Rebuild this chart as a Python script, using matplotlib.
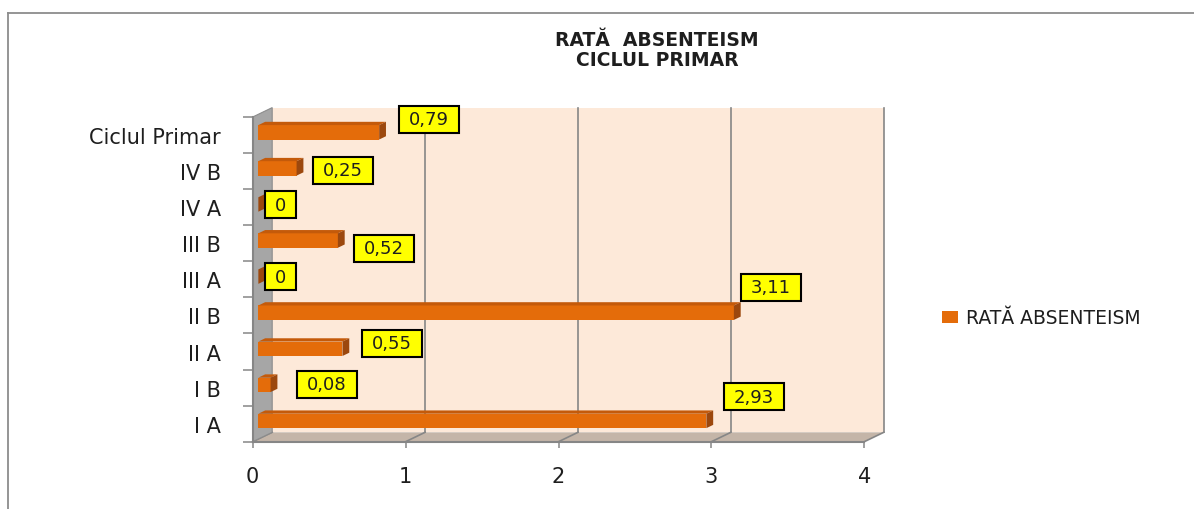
import matplotlib
matplotlib.use("Agg")
import matplotlib.pyplot as plt
from matplotlib.patches import Polygon, Rectangle
from matplotlib.transforms import ScaledTranslation, IdentityTransform
from matplotlib.lines import Line2D

# --- data ---
categories = ["I A", "I B", "II A", "II B", "III A", "III B", "IV A", "IV B", "Ciclul Primar"]
rates = [2.93, 0.08, 0.55, 3.11, 0, 0.52, 0, 0.25, 0.79]
x_ticks = [0, 1, 2, 3, 4]
series_name = "RATĂ ABSENTEISM"
title_lines = ["RATĂ  ABSENTEISM", "CICLUL PRIMAR"]

# where each yellow label box sits, px from the bar end (right, up)
label_shift = [(10.7, 27), (19.6, 3.4), (12.7, 8.5), (0.3, 28), (-0.2, 2.5),
               (9.6, -5.2), (-0.2, 2.5), (9.3, 0.7), (13.3, 16)]

W, H = 1194, 510
DX, DY = 19.5, 9.4          # depth of the fake 3d box, px
F0, F1 = 0.29, 0.64         # bar front / back depth
BAR_H = 0.40

ORANGE = "#e46c0a"
TOP = "#c45a0a"
SIDE = "#9c480e"
WALL = "#fde9d9"
FLOOR = "#c4b5a8"
SIDEWALL = "#a6a6a6"
GRID = "#868686"
TXT = "#1e1e1e"

plt.rcParams["font.family"] = ["DejaVu Sans"]

fig = plt.figure(figsize=(W / 100, H / 100), dpi=100)
ax = fig.add_axes([252.7 / W, (H - 442.7) / H, (864.3 - 252.7) / W, (442.7 - 118) / H])
ax.set_xlim(0, 4)
ax.set_ylim(-0.5, len(categories) - 0.5)
ax.set_autoscale_on(False)
ax.patch.set_visible(False)

top_y = len(categories) - 0.5


def to_px(x, y, depth=0.0):
    px, py = ax.transData.transform((x, y))
    return px + depth * DX, py + depth * DY


def poly(pts, fc, ec="none", lw=0, z=1):
    p = Polygon(pts, closed=True, facecolor=fc, edgecolor=ec, linewidth=lw,
                transform=IdentityTransform(), clip_on=False, zorder=z)
    ax.add_patch(p)


def seg(a, b, z=2, lw=1.2, color=GRID):
    ax.add_line(Line2D([a[0], b[0]], [a[1], b[1]], color=color, linewidth=lw,
                       transform=IdentityTransform(), clip_on=False, zorder=z))


# back wall, floor, left wall
poly([to_px(0, -0.5, 1), to_px(4, -0.5, 1), to_px(4, top_y, 1), to_px(0, top_y, 1)], WALL, z=0)
poly([to_px(0, -0.5, 0), to_px(4, -0.5, 0), to_px(4, -0.5, 1), to_px(0, -0.5, 1)], FLOOR, z=1)
poly([to_px(0, -0.5, 0), to_px(0, top_y, 0), to_px(0, top_y, 1), to_px(0, -0.5, 1)],
     SIDEWALL, ec="#8c8c8c", lw=0.8, z=2)

for xv in x_ticks:
    seg(to_px(xv, -0.5, 0), to_px(xv, -0.5, 1), z=1.5)
    if xv > 0:
        seg(to_px(xv, -0.5, 1), to_px(xv, top_y, 1), z=0.5)

# bars: front face through barh, top and side faces shifted in depth
shift = ScaledTranslation(F0 * DX / 100, F0 * DY / 100, fig.dpi_scale_trans)
ypos = list(range(len(categories)))
ax.barh(ypos, rates, height=BAR_H, color=ORANGE, label=series_name,
        transform=ax.transData + shift, clip_on=False, zorder=5)

for i, v in enumerate(rates):
    lo, hi = i - BAR_H / 2, i + BAR_H / 2
    poly([to_px(0, hi, F0), to_px(v, hi, F0), to_px(v, hi, F1), to_px(0, hi, F1)], TOP, z=5)
    poly([to_px(v, lo, F0), to_px(v, hi, F0), to_px(v, hi, F1), to_px(v, lo, F1)], SIDE, z=5)

# axes look
for s in ["top", "right"]:
    ax.spines[s].set_visible(False)
for s in ["left", "bottom"]:
    ax.spines[s].set_color(GRID)
    ax.spines[s].set_linewidth(1.5)
    ax.spines[s].set_zorder(3)

ax.set_xticks(x_ticks)
ax.set_yticks(ypos)
ax.set_yticklabels(categories)
ax.set_yticks([i - 0.5 for i in range(len(categories) + 1)], minor=True)
ax.tick_params(axis="x", length=4.3, width=1.1, color=GRID, pad=13, labelsize=15, labelcolor=TXT)
ax.tick_params(axis="y", which="major", length=0, pad=23, labelsize=15, labelcolor=TXT)
ax.tick_params(axis="y", which="minor", length=7.2, width=1.1, color=GRID)

# yellow value boxes
renderer = fig.canvas.get_renderer()
for i, v in enumerate(rates):
    txt = "0" if v == 0 else f"{v:.2f}".replace(".", ",")
    dx, dy = label_shift[i]
    bx = to_px(v, i, F1)[0] + dx
    by = to_px(v, i, 0)[1] + dy
    t = ax.text(bx + 10, by, txt, transform=IdentityTransform(), ha="left", va="center",
                fontsize=13, color=TXT, zorder=11, clip_on=False)
    w = t.get_window_extent(renderer).width
    ax.add_patch(Rectangle((bx, by - 13.5), w + 20, 27, facecolor="#ffff00", edgecolor="black",
                           linewidth=1.5, transform=IdentityTransform(), clip_on=False, zorder=10))

# legend
ax.legend(loc="center left", bbox_to_anchor=(942 / W, (H - 319) / H), bbox_transform=fig.transFigure,
          frameon=False, fontsize=13.5, handlelength=0.85, handleheight=0.55, handletextpad=0.45,
          borderpad=0, borderaxespad=0, labelcolor=TXT)

# title
fig.text(657 / W, 1 - 40.5 / H, title_lines[0], ha="center", va="center",
         fontsize=13.5, fontweight="bold", color=TXT)
fig.text(657 / W, 1 - 61 / H, title_lines[1], ha="center", va="center",
         fontsize=13.5, fontweight="bold", color=TXT)

# chart frame (only top and left edges are in view)
fig.add_artist(Line2D([7.5 / W, 7.5 / W], [0, 1 - 14 / H], color="#8c8c8c", linewidth=1.3))
fig.add_artist(Line2D([7.5 / W, 1], [1 - 14 / H, 1 - 14 / H], color="#8c8c8c", linewidth=1.3))

fig.savefig("out.png", dpi=100)
